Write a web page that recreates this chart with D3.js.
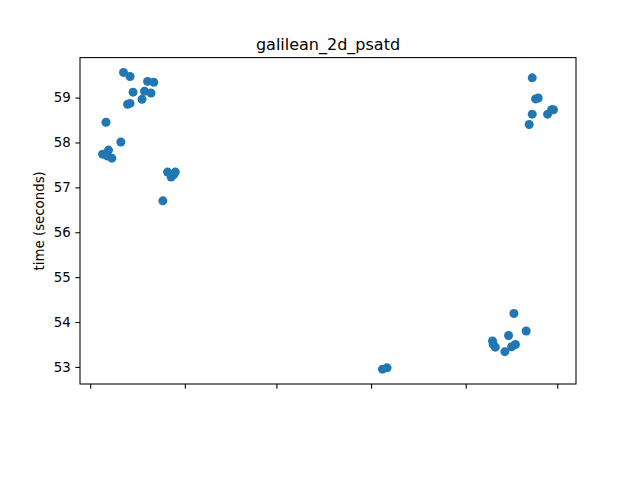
<!DOCTYPE html>
<html>
<head>
<meta charset="utf-8">
<script src="https://cdn.jsdelivr.net/npm/d3@7"></script>
<style>
  html, body { margin: 0; padding: 0; background: #fff; }
  svg text { font-family: "DejaVu Sans", sans-serif; fill: #000; }
</style>
</head>
<body>
<svg id="chart" width="640" height="480"></svg>
<script>
const title = "galilean_2d_psatd";
const yLabel = "time (seconds)";
const yTickValues = [53, 54, 55, 56, 57, 58, 59];

const runDates = [
  "2021-05-11T22:00", "2021-05-14T01:00", "2021-05-19T19:00", "2021-05-21T20:00",
  "2021-05-15T01:00", "2021-05-18T19:00", "2021-05-20T22:00", "2021-05-17T23:30",
  "2021-05-13T05:30", "2021-05-14T01:00", "2021-05-06T04:00", "2021-05-11T01:00",
  "2021-05-07T00:00", "2021-05-05T01:00", "2021-05-06T12:00", "2021-05-08T02:00",
  "2021-05-26T08:00", "2021-05-28T21:00", "2021-05-27T12:00", "2021-05-28T07:30",
  "2021-05-24T19:00",
  "2021-08-04T17:45", "2021-08-06T06:00",
  "2021-09-22T19:00", "2021-09-23T21:30", "2021-09-24T18:00", "2021-09-22T19:00",
  "2021-09-27T20:00", "2021-09-29T03:30", "2021-09-29T18:00", "2021-09-21T19:00",
  "2021-09-16T19:00", "2021-09-20T19:40", "2021-09-15T01:00", "2021-09-09T19:00",
  "2021-09-10T00:00", "2021-09-10T17:00", "2021-09-13T20:00", "2021-09-16T01:00",
  "2021-09-17T07:00"
];
const runTimes = [
  59.56, 59.47, 59.36, 59.34,
  59.12, 59.14, 59.10, 58.96,
  58.85, 58.87, 58.45, 58.01,
  57.83, 57.74, 57.70, 57.65,
  57.34, 57.34, 57.23, 57.28,
  56.70,
  52.95, 52.98,
  59.44, 58.97, 58.99, 58.63,
  58.63, 58.73, 58.73, 58.40,
  54.19, 53.80, 53.70, 53.58,
  53.50, 53.44, 53.34, 53.45,
  53.50
];

const W = 640, H = 480;
const margin = { left: 80, right: 64, top: 57.6, bottom: 96 };
const svg = d3.select("#chart");

const data = runDates.map((d, i) => ({ date: new Date(d), t: runTimes[i] }));

function padded(ext, frac) {
  const a = +ext[0], b = +ext[1], m = (b - a) * frac;
  return [a - m, b + m];
}

const xExt = padded(d3.extent(data, d => d.date), 0.05);
const yExt = padded(d3.extent(data, d => d.t), 0.05);

const x = d3.scaleTime()
  .domain([new Date(xExt[0]), new Date(xExt[1])])
  .range([margin.left, W - margin.right]);
const y = d3.scaleLinear()
  .domain(yExt)
  .range([H - margin.bottom, margin.top]);

const tickLen = 4.67;

// x axis (ticks only, no labels)
const xAxis = svg.append("g")
  .attr("transform", `translate(0,${H - margin.bottom})`)
  .call(d3.axisBottom(x).ticks(d3.timeMonth.every(1)).tickSize(tickLen).tickFormat(""));
xAxis.select(".domain").remove();
xAxis.selectAll(".tick line").attr("stroke", "#000").attr("stroke-width", 1.07);

// y axis
const yAxis = svg.append("g")
  .attr("transform", `translate(${margin.left},0)`)
  .call(d3.axisLeft(y).tickValues(yTickValues).tickSize(tickLen).tickPadding(4.67).tickFormat(d3.format("d")));
yAxis.select(".domain").remove();
yAxis.selectAll(".tick line").attr("stroke", "#000").attr("stroke-width", 1.07);
yAxis.selectAll(".tick text")
  .style("font-size", "13.33px")
  .style("font-family", "'DejaVu Sans', sans-serif");

// points
svg.append("g").selectAll("circle")
  .data(data)
  .join("circle")
  .attr("cx", d => x(d.date))
  .attr("cy", d => y(d.t))
  .attr("r", 4.5)
  .attr("fill", "#1f77b4");

// frame
svg.append("rect")
  .attr("x", margin.left)
  .attr("y", margin.top)
  .attr("width", W - margin.left - margin.right)
  .attr("height", H - margin.top - margin.bottom)
  .attr("fill", "none")
  .attr("stroke", "#000")
  .attr("stroke-width", 1.07);

// title
svg.append("text")
  .attr("x", margin.left + (W - margin.left - margin.right) / 2)
  .attr("y", margin.top - 8)
  .attr("text-anchor", "middle")
  .style("font-size", "16px")
  .text(title);

// y label
svg.append("text")
  .attr("transform", `translate(44,${margin.top + (H - margin.top - margin.bottom) / 2}) rotate(-90)`)
  .attr("text-anchor", "middle")
  .style("font-size", "13.33px")
  .text(yLabel);
</script>
</body>
</html>
